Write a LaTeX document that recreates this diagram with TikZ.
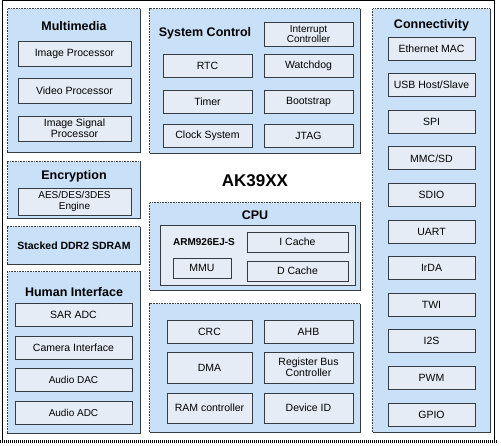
\documentclass[tikz,border=0pt]{standalone}
\usepackage{fontspec}
\setmainfont{Liberation Sans}
\definecolor{bluefill}{HTML}{C8E0F8}
\definecolor{innerfill}{HTML}{E6ECF5}
\definecolor{boxdraw}{HTML}{363B42}
\tikzset{
  ibox/.style={draw=boxdraw, line width=0.9pt, fill=innerfill, inner sep=0pt, align=center, font=\fontsize{10.5}{11}\selectfont},
  bbox/.style={fill=bluefill, inner sep=0pt},
  title/.style={font=\bfseries\fontsize{12.5}{14}\selectfont, inner sep=0pt},
  dotb/.style={draw=boxdraw, line width=0.8pt, dash pattern=on 0.8pt off 0.8pt},
  solb/.style={draw=boxdraw, line width=0.9pt},
}
\newcommand\bborder[1]{%
  \draw[dotb] (#1.south west) -- (#1.north west) -- (#1.north east);
  \draw[solb] (#1.north east) -- (#1.south east) -- (#1.south west);}
\begin{document}
\begin{tikzpicture}[x=1pt,y=-1pt]
\useasboundingbox (0,0) rectangle (501,446);
% outer frame
\coordinate (otl) at (2,1);
\coordinate (otr) at (494,1);
\coordinate (obr) at (494,441);
\coordinate (obl) at (2,441);
\coordinate (obe) at (498,441);
\draw[black, line width=1pt] (obl) -- (otl) -- (otr) -- (obr);
\draw[black, line width=3pt, dash pattern=on 1pt off 1pt] (0,441) -- (obe);

% ---- Multimedia
\node[bbox, minimum width=133, minimum height=143] (mm) at (74,80.5) {};
\bborder{mm}
\node[title] (mmt) at (74,26) {Multimedia};
\node[ibox, minimum width=113, minimum height=25] (ip) at (74.5,53.5) {Image Processor};
\node[ibox, minimum width=113, minimum height=25] (vp) at (74.5,90.5) {Video Processor};
\node[ibox, minimum width=113, minimum height=25] (isp) at (74.5,128.5) {Image Signal\\Processor};

% ---- Encryption
\node[bbox, minimum width=133, minimum height=56] (enc) at (74,190) {};
\bborder{enc}
\node[title] (enct) at (74,176) {Encryption};
\node[ibox, minimum width=113, minimum height=27, font=\fontsize{10}{11}\selectfont] (aes) at (74.5,201.5) {AES/DES/3DES\\Engine};

% ---- Stacked DDR2
\node[bbox, minimum width=133, minimum height=37, font=\bfseries\fontsize{10.5}{12}\selectfont] (ddr) at (74,245.5) {Stacked DDR2 SDRAM};
\bborder{ddr}

% ---- Human Interface
\node[bbox, minimum width=133, minimum height=161] (hi) at (74,352.5) {};
\bborder{hi}
\node[title] (hit) at (74,292) {Human Interface};
\node[ibox, minimum width=117, minimum height=23] (sar) at (73.5,315) {SAR ADC};
\node[ibox, minimum width=117, minimum height=23] (cam) at (73.5,347.5) {Camera Interface};
\node[ibox, minimum width=117, minimum height=23, font=\fontsize{10}{11}\selectfont] (dac) at (73.5,380) {Audio DAC};
\node[ibox, minimum width=117, minimum height=23, font=\fontsize{10}{11}\selectfont] (adc) at (73.5,412.5) {Audio ADC};

% ---- System Control
\node[bbox, minimum width=210, minimum height=144] (sc) at (255,81) {};
\bborder{sc}
\node[title] (sct) at (205,33) {System Control};
\node[ibox, minimum width=89, minimum height=24, font=\fontsize{10}{10.5}\selectfont] (irq) at (308.5,34) {Interrupt\\Controller};
\node[ibox, minimum width=89, minimum height=23] (rtc) at (207.5,65.5) {RTC};
\node[ibox, minimum width=89, minimum height=23] (wdg) at (308.5,65.5) {Watchdog};
\node[ibox, minimum width=89, minimum height=23] (tmr) at (207.5,101.5) {Timer};
\node[ibox, minimum width=89, minimum height=23] (boot) at (308.5,101.5) {Bootstrap};
\node[ibox, minimum width=89, minimum height=23] (clk) at (207.5,135.5) {Clock System};
\node[ibox, minimum width=89, minimum height=23] (jtag) at (308.5,135.5) {JTAG};

% ---- Chip name
\node[font=\bfseries\fontsize{17}{18}\selectfont, inner sep=0pt] (chip) at (255,181) {AK39XX};

% ---- CPU
\node[bbox, minimum width=210, minimum height=87] (cpu) at (255,246.5) {};
\bborder{cpu}
\node[title] (cput) at (255,215) {CPU};
\node[ibox, minimum width=195, minimum height=60] (arm) at (257.5,255) {};
\node[font=\bfseries\fontsize{10}{11}\selectfont, inner sep=0pt] (armt) at (204,242) {ARM926EJ-S};
\node[ibox, minimum width=101, minimum height=20] (icache) at (297.5,242) {I Cache};
\node[ibox, minimum width=58, minimum height=20] (mmu) at (202,268) {MMU};
\node[ibox, minimum width=101, minimum height=20] (dcache) at (297.5,271) {D Cache};

% ---- Bus block
\node[bbox, minimum width=210, minimum height=128] (bus) at (255,368) {};
\bborder{bus}
\node[ibox, minimum width=85, minimum height=23] (crc) at (209.5,331.5) {CRC};
\node[ibox, minimum width=89, minimum height=23] (ahb) at (308.5,331.5) {AHB};
\node[ibox, minimum width=85, minimum height=31] (dma) at (209.5,367.5) {DMA};
\node[ibox, minimum width=89, minimum height=31] (rbc) at (308.5,367.5) {Register Bus\\Controller};
\node[ibox, minimum width=85, minimum height=30] (ram) at (209.5,408) {RAM controller};
\node[ibox, minimum width=89, minimum height=30] (did) at (308.5,408) {Device ID};

% ---- Connectivity
\node[bbox, minimum width=117, minimum height=423] (con) at (431.5,220.5) {};
\bborder{con}
\node[title] (cont) at (431.5,25) {Connectivity};
\foreach \t [count=\i from 0] in {Ethernet MAC,USB Host/Slave,SPI,MMC/SD,SDIO,UART,IrDA,TWI,I2S,PWM,GPIO}{
  \node[ibox, minimum width=87, minimum height=23] (c\i) at (431.5,48.5+36.6*\i) {\t};
}
\end{tikzpicture}
\end{document}
